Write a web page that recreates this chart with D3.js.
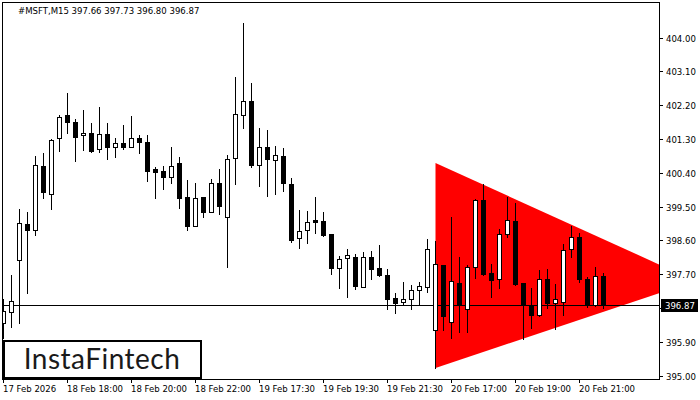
<!DOCTYPE html>
<html>
<head>
<meta charset="utf-8">
<script src="https://cdn.jsdelivr.net/npm/d3@7"></script>
<style>
  body { margin: 0; background: #fff; }
  svg text { font-family: "DejaVu Sans Condensed", "DejaVu Sans", sans-serif; font-size: 9.5px; fill: #000; }
</style>
</head>
<body>
<div id="chart"></div>
<script>
// MSFT M15 candles
var opens  = [396.40,396.69,398.07,399.03,398.87,400.57,399.83,401.32,401.94,401.74,
              401.40,401.45,401.03,401.43,401.08,401.19,401.08,401.32,401.21,400.50,
              400.44,400.28,400.65,399.75,398.98,399.75,399.35,400.12,399.23,400.79,
              401.93,402.30,400.62,401.10,400.73,400.84,400.09,398.66,398.87,399.14,
              399.11,398.76,397.86,398.12,398.16,397.37,398.16,397.87,397.68,397.07,
              396.97,397.03,397.27,397.35,396.21,397.94,396.44,397.46,396.77,397.90,
              399.68,397.72,397.56,398.76,399.12,397.46,396.88,396.62,397.57,396.93,
              396.97,398.36,398.68,397.57,396.89,397.66];
var highs  = [397.04,397.68,399.44,399.35,400.85,400.93,401.29,401.94,402.52,401.82,
              402.07,401.72,402.14,401.72,401.32,401.67,401.91,401.41,401.41,400.55,
              400.58,401.08,400.81,400.21,400.12,399.76,400.24,400.50,400.87,402.95,
              404.38,402.78,401.59,401.54,401.11,401.05,400.25,399.41,399.38,399.75,
              399.35,398.76,398.19,398.36,398.23,398.29,398.32,398.48,397.84,397.19,
              397.49,397.41,397.50,398.64,398.59,397.94,399.22,398.15,397.94,399.70,
              400.09,397.97,398.90,399.76,399.59,397.46,397.33,397.81,397.83,397.44,
              398.50,398.98,398.79,397.62,397.88,397.73];
var lows   = [396.00,396.30,396.39,397.19,398.75,399.72,399.43,400.99,401.45,400.72,
              401.01,400.95,400.96,400.77,400.83,401.04,401.08,400.94,400.19,399.74,
              399.98,400.14,399.47,398.89,398.98,399.23,399.35,399.31,397.90,400.09,
              401.60,400.56,400.06,399.79,399.83,399.92,398.57,398.39,398.54,398.81,
              398.73,397.71,397.34,397.10,397.31,397.37,397.56,397.65,396.78,396.68,
              396.88,396.78,396.91,397.23,395.20,396.22,396.01,396.17,396.17,397.61,
              397.67,397.10,397.34,398.70,397.42,395.98,396.28,396.60,396.81,396.23,
              396.61,398.15,397.50,396.82,396.84,396.80];
var closes = [396.72,396.99,399.06,398.87,400.60,399.88,401.27,401.88,401.74,401.36,
              401.46,400.99,401.43,401.10,401.19,401.10,401.32,401.23,400.46,400.43,
              400.30,400.57,399.74,398.99,399.72,399.36,400.12,399.52,400.76,401.96,
              402.30,400.62,401.10,400.76,400.87,400.12,398.61,398.86,399.10,399.10,
              398.74,397.86,398.10,398.20,397.39,398.16,397.83,397.68,397.05,396.94,
              397.03,397.27,397.38,398.36,397.96,396.60,397.51,396.88,397.88,399.68,
              397.71,397.55,398.76,399.14,397.44,396.88,396.62,397.56,396.94,397.03,
              398.35,398.68,397.58,396.88,397.65,396.87];

var priceTicks = [404.00, 403.10, 402.20, 401.30, 400.40, 399.50, 398.60, 397.70, 396.80, 395.90, 395.00];
var timeTickBars = [0, 8, 16, 24, 32, 40, 48, 56, 64, 72];
var timeTickLabels = ["17 Feb 2026", "18 Feb 18:00", "18 Feb 20:00", "18 Feb 22:00", "19 Feb 17:30",
                      "19 Feb 19:30", "19 Feb 21:30", "20 Feb 17:00", "20 Feb 19:00", "20 Feb 21:00"];

// symmetrical triangle pattern: [bar index, price]
var triangleBars   = [54, 54, 86.5];
var trianglePrices = [400.66, 395.20, 397.52];

var symbol = "#MSFT,M15";
var lastPrice = 396.87;

var width = 700, height = 400;
// plot box (window.top is read-only, so keep these names apart)
var plotL = 3, plotR = 659, plotT = 3, plotB = 379;

var svg = d3.select("#chart").append("svg")
    .attr("width", width)
    .attr("height", height);

var x = d3.scaleLinear().domain([0, 75]).range([3.5, 603.5]);
var y = d3.scaleLinear().domain([395, 404]).range([375.6, 37.6]);
var py = function (v) { return Math.round(y(v)); };

svg.append("clipPath").attr("id", "plotclip")
    .append("rect").attr("x", plotL).attr("y", plotT)
    .attr("width", plotR - plotL).attr("height", plotB - plotT);

var plot = svg.append("g").attr("clip-path", "url(#plotclip)");

// red triangle
plot.append("path")
    .attr("d", d3.line()(triangleBars.map(function (b, i) { return [x(b), y(trianglePrices[i])]; })) + "Z")
    .attr("fill", "#ff0000");

// current price line
plot.append("line")
    .attr("x1", plotL).attr("x2", plotR)
    .attr("y1", py(lastPrice) + 0.5).attr("y2", py(lastPrice) + 0.5)
    .attr("stroke", "#000").attr("stroke-width", 1);

var bars = d3.range(opens.length);

// wicks
plot.append("g").selectAll("rect").data(bars).enter().append("rect")
    .attr("x", function (i) { return x(i) - 0.5; })
    .attr("width", 1)
    .attr("y", function (i) { return py(highs[i]); })
    .attr("height", function (i) { return py(lows[i]) - py(highs[i]) + 1; })
    .attr("fill", "#000");

// bodies
plot.append("g").selectAll("rect").data(bars).enter().append("rect")
    .each(function (i) {
        var t = py(Math.max(opens[i], closes[i]));
        var b = py(Math.min(opens[i], closes[i]));
        var r = d3.select(this);
        if (closes[i] >= opens[i]) {
            r.attr("x", x(i) - 2).attr("width", 4)
             .attr("y", t + 0.5).attr("height", Math.max(b - t, 1))
             .attr("fill", "#fff").attr("stroke", "#000").attr("stroke-width", 1);
        } else {
            r.attr("x", x(i) - 2.5).attr("width", 5)
             .attr("y", t).attr("height", b - t + 1)
             .attr("fill", "#000");
        }
    });

// frame
svg.append("rect")
    .attr("x", plotL - 0.5).attr("y", plotT - 0.5)
    .attr("width", plotR - plotL + 1).attr("height", plotB - plotT + 1)
    .attr("fill", "none").attr("stroke", "#000");

// price axis
var yAxis = svg.append("g");
priceTicks.forEach(function (p) {
    var yy = py(p) + 0.5;
    yAxis.append("line").attr("x1", plotR).attr("x2", plotR + 4)
        .attr("y1", yy).attr("y2", yy).attr("stroke", "#000");
    if (Math.abs(py(p) - py(lastPrice)) > 8) {
        yAxis.append("text").attr("x", 666).attr("y", yy).attr("dy", "0.35em")
            .text(p.toFixed(2));
    }
});

// last price marker
yAxis.append("rect")
    .attr("x", 661).attr("y", py(lastPrice) - 6)
    .attr("width", 37).attr("height", 13)
    .attr("fill", "#000");
yAxis.append("text").attr("x", 665).attr("y", py(lastPrice) + 0.5).attr("dy", "0.35em")
    .style("fill", "#fff")
    .text(lastPrice.toFixed(2));

// time axis
var xAxis = svg.append("g");
timeTickBars.forEach(function (b, i) {
    var xx = Math.floor(x(b)) + 0.5;
    xAxis.append("line").attr("x1", xx).attr("x2", xx)
        .attr("y1", plotB).attr("y2", plotB + 4).attr("stroke", "#000");
    xAxis.append("text").attr("x", xx - 0.5).attr("y", 392)
        .text(timeTickLabels[i]);
});

// header
var last = opens.length - 1;
svg.append("text").attr("x", 18).attr("y", 14)
    .text(symbol + "  " + [opens[last], highs[last], lows[last], closes[last]].map(function (v) { return v.toFixed(2); }).join(" "));

// logo
svg.append("rect")
    .attr("x", 4).attr("y", 341)
    .attr("width", 197).attr("height", 37)
    .attr("fill", "#fff").attr("stroke", "#000").attr("stroke-width", 2);
svg.append("text")
    .attr("x", 102).attr("y", 369)
    .attr("text-anchor", "middle")
    .style("font-family", "Lato, sans-serif")
    .style("font-size", "28px")
    .style("letter-spacing", "0.5px")
    .style("fill", "#1a1a1a")
    .text("InstaFintech");
</script>
</body>
</html>
